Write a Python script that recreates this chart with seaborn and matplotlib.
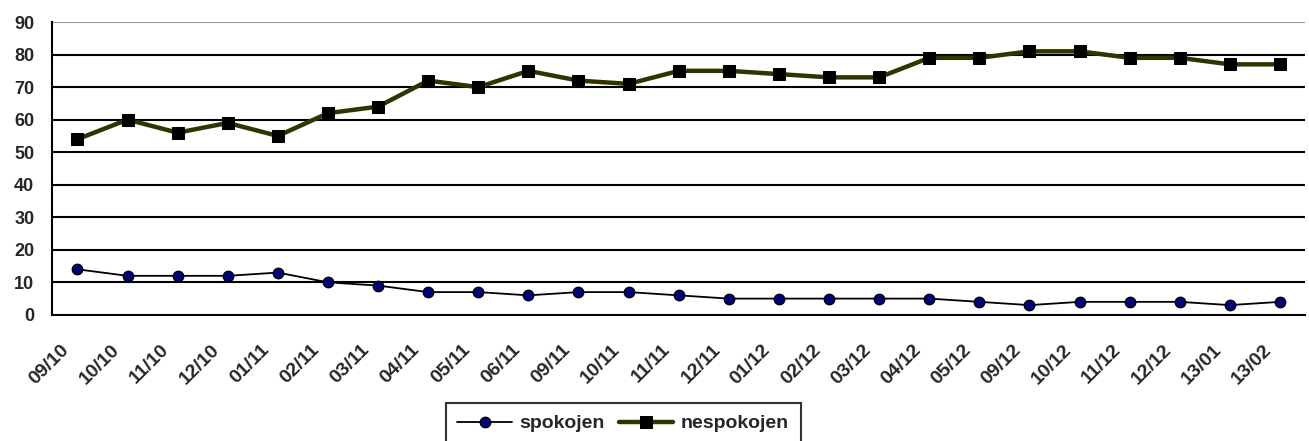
import numpy as np
import pandas as pd
import matplotlib
matplotlib.use("Agg")
import matplotlib.pyplot as plt
import matplotlib.transforms as mtransforms
import seaborn as sns

# data
labels = ["09/10", "10/10", "11/10", "12/10", "01/11", "02/11", "03/11", "04/11",
          "05/11", "06/11", "09/11", "10/11", "11/11", "12/11", "01/12", "02/12",
          "03/12", "04/12", "05/12", "09/12", "10/12", "11/12", "12/12", "13/01", "13/02"]
spokojen = [14, 12, 12, 12, 13, 10, 9, 7, 7, 6, 7, 7, 6, 5, 5, 5, 5, 5, 4, 3, 4, 4, 4, 3, 4]
nespokojen = [54, 60, 56, 59, 55, 62, 64, 72, 70, 75, 72, 71, 75, 75, 74, 73, 73, 79, 79,
              81, 81, 79, 79, 77, 77]

sns.set_style("white")
plt.rcParams['font.family'] = ['Liberation Sans', 'DejaVu Sans']

df = pd.DataFrame({"pos": np.arange(len(labels)), "spokojen": spokojen, "nespokojen": nespokojen})

fig = plt.figure(figsize=(13.09, 4.41), dpi=100)
ax = fig.add_axes([0.040, 0.286, 0.957, 0.664])

# horizontal grid
for v in range(10, 90, 10):
    ax.axhline(v, color="black", lw=1.5, zorder=1)
ax.axhline(90, color="#999999", lw=1.5, zorder=1)

sns.lineplot(data=df, x="pos", y="spokojen", ax=ax, color="black", lw=1.3,
             marker="o", markersize=7.5, markerfacecolor="#000080", markeredgecolor="black",
             markeredgewidth=1.0, label="spokojen", zorder=3, legend=False)
sns.lineplot(data=df, x="pos", y="nespokojen", ax=ax, color="#333300", lw=3.2,
             marker="s", markersize=9, markerfacecolor="black", markeredgecolor="black",
             label="nespokojen", zorder=3, legend=False)

ax.set_xlim(-0.5, len(labels) - 0.5)
ax.set_ylim(0, 90)
ax.set_yticks(range(0, 91, 10))
ax.set_yticklabels([str(v) for v in range(0, 91, 10)], fontsize=13, fontweight="bold")
ax.set_xticks(df["pos"])
ax.set_xticklabels(labels, rotation=45, ha="right", rotation_mode="anchor",
                   fontsize=14, fontweight="bold")
ax.set_xticks(np.arange(-0.5, len(labels), 1), minor=True)
ax.tick_params(axis="x", which="major", length=0, pad=16)
ax.tick_params(axis="x", which="minor", length=5, width=1.5, color="black", direction="out")
ax.tick_params(axis="y", length=6, width=1.5, color="black", direction="out", pad=7)
ax.set_xlabel("")
ax.set_ylabel("")

# nudge the rotated labels left, like the reference
shift = mtransforms.ScaledTranslation(-0.17, -0.04, fig.dpi_scale_trans)
for t in ax.get_xticklabels():
    t.set_transform(t.get_transform() + shift)

for s in ["top", "right"]:
    ax.spines[s].set_visible(False)
for s in ["left", "bottom"]:
    ax.spines[s].set_color("black")
    ax.spines[s].set_linewidth(1.5)
ax.spines["bottom"].set_zorder(2)

handles, lbls = ax.get_legend_handles_labels()
leg = fig.legend(handles, lbls, loc="upper center", bbox_to_anchor=(0.476, 0.086), ncol=2,
                 frameon=True, fancybox=False, edgecolor="black", handlelength=2.8,
                 columnspacing=0.7, handletextpad=0.4, borderpad=0.6, borderaxespad=0,
                 prop={"size": 14, "weight": "bold"})
leg.get_frame().set_linewidth(1.5)

fig.savefig("out.png", dpi=100)
